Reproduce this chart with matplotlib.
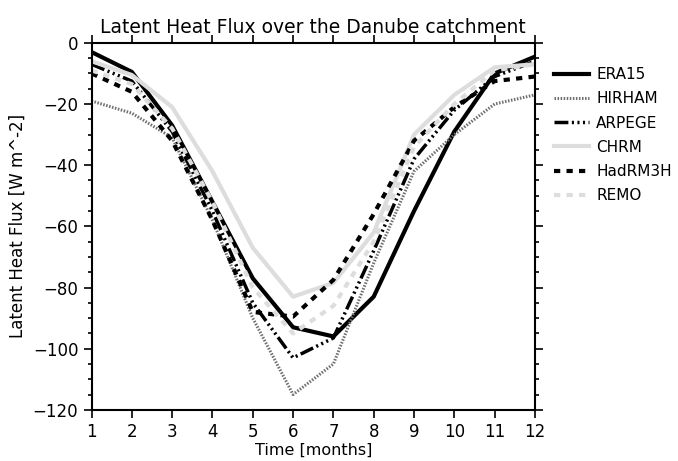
import matplotlib
matplotlib.use("Agg")
import matplotlib.pyplot as plt
from matplotlib.ticker import MultipleLocator

plt.rcParams['font.family'] = ['DejaVu Sans']

months = [1, 2, 3, 4, 5, 6, 7, 8, 9, 10, 11, 12]
era15 = [-3, -9.5, -27, -52, -77, -93, -96, -83, -55, -29, -10, -4.5]
hirham = [-19, -23, -31, -58, -90, -115, -105, -72, -42, -30, -20, -17]
arpege = [-7, -12.5, -29, -55, -85, -103, -96.5, -68, -38, -22, -11, -6]
chrm = [-6, -10.5, -21, -42, -67, -83, -78.5, -62, -30, -17, -8, -7]
hadrm3h = [-10, -16, -32, -58, -88, -89.5, -77.5, -56, -32, -21, -12.5, -11]
remo = [-9, -13.5, -28, -52, -80, -95, -86, -65, -34, -20, -9, -7]

fig = plt.figure(figsize=(6.78, 4.61), dpi=100)
ax = fig.add_axes([0.135, 0.111, 0.654, 0.796])

ax.plot(months, era15, color='black', lw=3, label='ERA15')
ax.plot(months, hirham, color='#6f6f6f', lw=2.2, ls=(0, (0.5, 0.5)), label='HIRHAM')
ax.plot(months, arpege, color='black', lw=2.5, ls=(0, (4, 1, 0.6, 1, 0.6, 1, 0.6, 1)), label='ARPEGE')
ax.plot(months, chrm, color='#dddddd', lw=3, label='CHRM')
ax.plot(months, hadrm3h, color='black', lw=3, ls=(0, (1.5, 1.5)), label='HadRM3H')
ax.plot(months, remo, color='#dddddd', lw=3, ls=(0, (1.5, 1.5)), label='REMO')

ax.set_xlim(1, 12)
ax.set_ylim(-120, 0)
ax.set_xticks(months)
ax.yaxis.set_major_locator(MultipleLocator(20))
ax.yaxis.set_minor_locator(MultipleLocator(5))
ax.tick_params(axis='both', which='both', direction='out', top=True, right=True,
               labelsize=12, width=1.2)
ax.tick_params(which='major', length=6)
ax.tick_params(which='minor', length=3)
for s in ax.spines.values():
    s.set_linewidth(1.5)

ax.set_title('Latent Heat Flux over the Danube catchment', fontsize=13.5, pad=7)
ax.set_xlabel('Time [months]', fontsize=11.5, labelpad=1)
ax.set_ylabel('Latent Heat Flux [W m^-2]', fontsize=12)

ax.legend(loc='upper left', bbox_to_anchor=(1.03, 0.95), borderaxespad=0, frameon=False,
          fontsize=11, handlelength=2.3, labelspacing=0.6, handletextpad=0.45)

fig.savefig('out.png', dpi=100)
